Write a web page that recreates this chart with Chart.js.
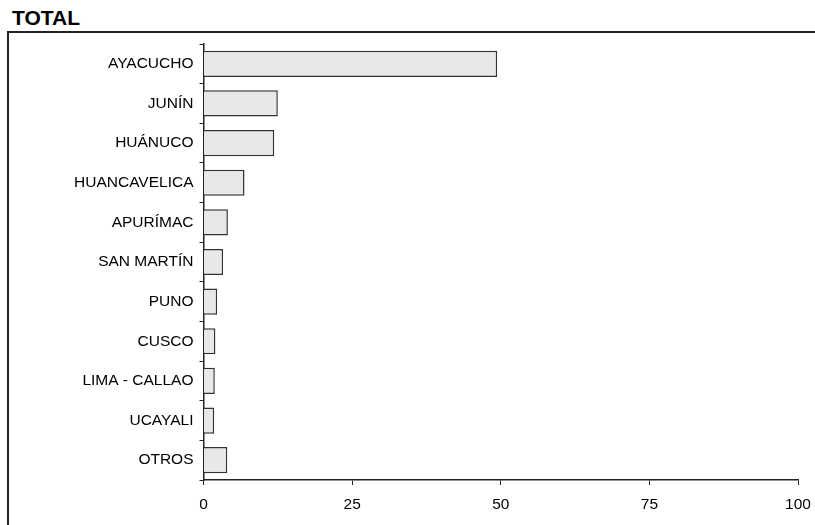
<!DOCTYPE html>
<html>
<head>
<meta charset="utf-8">
<script src="https://cdn.jsdelivr.net/npm/chart.js@4"></script>
<style>
  body { margin: 0; background: #fff; }
  #title { position: absolute; left: 12px; top: 6px; font: bold 21px Arial, "Liberation Sans", sans-serif; color: #000; }
  #frame { position: absolute; left: 7px; top: 31px; width: 820px; height: 600px; border-left: 2px solid #222; border-top: 2px solid #222; }
  #wrap { position: absolute; left: 0; top: 0; width: 815px; height: 525px; }
</style>
</head>
<body>
<div id="title">TOTAL</div>
<div id="frame"></div>
<div id="wrap"><canvas id="totalChart" width="815" height="525"></canvas></div>
<script>
var regiones = ['AYACUCHO', 'JUNÍN', 'HUÁNUCO', 'HUANCAVELICA', 'APURÍMAC', 'SAN MARTÍN', 'PUNO', 'CUSCO', 'LIMA - CALLAO', 'UCAYALI', 'OTROS'];
var porcentajes = [49.4, 12.5, 11.9, 6.9, 4.1, 3.3, 2.3, 2.0, 1.9, 1.8, 4.0];
var xTicks = [0, 25, 50, 75, 100];

var fontFam = 'Arial, "Liberation Sans", sans-serif';

var ctx = document.getElementById('totalChart').getContext('2d');
var chart = new Chart(ctx, {
  type: 'bar',
  data: {
    labels: regiones,
    datasets: [{
      data: porcentajes,
      backgroundColor: '#e8e8e8',
      borderColor: '#333',
      borderWidth: 1.5,
      barPercentage: 0.66,
      categoryPercentage: 1
    }]
  },
  options: {
    indexAxis: 'y',
    responsive: false,
    animation: false,
    layout: { padding: { top: 44, right: 17, left: 0, bottom: 0 } },
    plugins: {
      legend: { display: false },
      tooltip: { enabled: false }
    },
    scales: {
      x: {
        min: xTicks[0],
        max: xTicks[xTicks.length - 1],
        afterBuildTicks: function (axis) {
          axis.ticks = xTicks.map(function (v) { return { value: v }; });
        },
        afterFit: function (axis) {
          axis.height = 45;
          axis.paddingLeft = 0;
          axis.paddingRight = 0;
        },
        grid: { drawOnChartArea: false, tickLength: 5, color: '#222', lineWidth: 1 },
        border: { color: '#222', width: 1.5 },
        ticks: { color: '#000', padding: 10, font: { family: fontFam, size: 15.5 } }
      },
      y: {
        afterFit: function (axis) {
          axis.width = 203.5;
          axis.paddingTop = 0;
          axis.paddingBottom = 0;
        },
        grid: { drawOnChartArea: false, tickLength: 4, color: '#222', lineWidth: 1, offset: true },
        border: { color: '#222', width: 1.5 },
        ticks: { color: '#000', padding: 6, font: { family: fontFam, size: 15.5 } }
      }
    }
  }
});
</script>
</body>
</html>
